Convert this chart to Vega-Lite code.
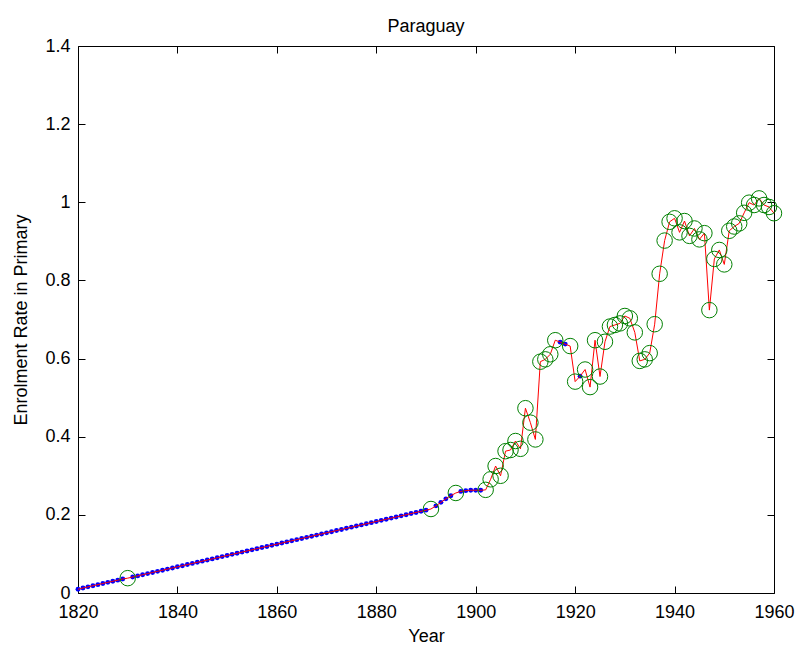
{
  "$schema": "https://vega.github.io/schema/vega-lite/v6.json",
  "autosize": {"type": "none"},
  "padding": {"left": 78, "top": 46, "right": 30, "bottom": 60},
  "width": 696,
  "height": 547,
  "background": "white",
  "title": {"text": "Paraguay", "fontSize": 18, "font": "Liberation Sans", "fontWeight": "normal", "color": "black", "offset": 1},
  "config": {
    "font": "Liberation Sans",
    "view": {"stroke": "black", "strokeWidth": 1}
  },
  "data": {"values": [
    {"year": 1820, "v": 0.0095, "obs": false},
    {"year": 1821, "v": 0.0128, "obs": false},
    {"year": 1822, "v": 0.0157, "obs": false},
    {"year": 1823, "v": 0.0186, "obs": false},
    {"year": 1824, "v": 0.0214, "obs": false},
    {"year": 1825, "v": 0.0243, "obs": false},
    {"year": 1826, "v": 0.0272, "obs": false},
    {"year": 1827, "v": 0.0300, "obs": false},
    {"year": 1828, "v": 0.0329, "obs": false},
    {"year": 1829, "v": 0.0358, "obs": false},
    {"year": 1830, "v": 0.0380, "obs": true},
    {"year": 1831, "v": 0.0409, "obs": false},
    {"year": 1832, "v": 0.0438, "obs": false},
    {"year": 1833, "v": 0.0467, "obs": false},
    {"year": 1834, "v": 0.0496, "obs": false},
    {"year": 1835, "v": 0.0525, "obs": false},
    {"year": 1836, "v": 0.0554, "obs": false},
    {"year": 1837, "v": 0.0583, "obs": false},
    {"year": 1838, "v": 0.0612, "obs": false},
    {"year": 1839, "v": 0.0641, "obs": false},
    {"year": 1840, "v": 0.0670, "obs": false},
    {"year": 1841, "v": 0.0699, "obs": false},
    {"year": 1842, "v": 0.0728, "obs": false},
    {"year": 1843, "v": 0.0757, "obs": false},
    {"year": 1844, "v": 0.0786, "obs": false},
    {"year": 1845, "v": 0.0815, "obs": false},
    {"year": 1846, "v": 0.0844, "obs": false},
    {"year": 1847, "v": 0.0873, "obs": false},
    {"year": 1848, "v": 0.0902, "obs": false},
    {"year": 1849, "v": 0.0931, "obs": false},
    {"year": 1850, "v": 0.0960, "obs": false},
    {"year": 1851, "v": 0.0989, "obs": false},
    {"year": 1852, "v": 0.1018, "obs": false},
    {"year": 1853, "v": 0.1047, "obs": false},
    {"year": 1854, "v": 0.1076, "obs": false},
    {"year": 1855, "v": 0.1105, "obs": false},
    {"year": 1856, "v": 0.1134, "obs": false},
    {"year": 1857, "v": 0.1163, "obs": false},
    {"year": 1858, "v": 0.1192, "obs": false},
    {"year": 1859, "v": 0.1221, "obs": false},
    {"year": 1860, "v": 0.1250, "obs": false},
    {"year": 1861, "v": 0.1279, "obs": false},
    {"year": 1862, "v": 0.1308, "obs": false},
    {"year": 1863, "v": 0.1337, "obs": false},
    {"year": 1864, "v": 0.1366, "obs": false},
    {"year": 1865, "v": 0.1395, "obs": false},
    {"year": 1866, "v": 0.1424, "obs": false},
    {"year": 1867, "v": 0.1453, "obs": false},
    {"year": 1868, "v": 0.1482, "obs": false},
    {"year": 1869, "v": 0.1511, "obs": false},
    {"year": 1870, "v": 0.1540, "obs": false},
    {"year": 1871, "v": 0.1569, "obs": false},
    {"year": 1872, "v": 0.1598, "obs": false},
    {"year": 1873, "v": 0.1627, "obs": false},
    {"year": 1874, "v": 0.1656, "obs": false},
    {"year": 1875, "v": 0.1685, "obs": false},
    {"year": 1876, "v": 0.1714, "obs": false},
    {"year": 1877, "v": 0.1743, "obs": false},
    {"year": 1878, "v": 0.1772, "obs": false},
    {"year": 1879, "v": 0.1801, "obs": false},
    {"year": 1880, "v": 0.1830, "obs": false},
    {"year": 1881, "v": 0.1859, "obs": false},
    {"year": 1882, "v": 0.1888, "obs": false},
    {"year": 1883, "v": 0.1917, "obs": false},
    {"year": 1884, "v": 0.1946, "obs": false},
    {"year": 1885, "v": 0.1975, "obs": false},
    {"year": 1886, "v": 0.2004, "obs": false},
    {"year": 1887, "v": 0.2033, "obs": false},
    {"year": 1888, "v": 0.2062, "obs": false},
    {"year": 1889, "v": 0.2091, "obs": false},
    {"year": 1890, "v": 0.2120, "obs": false},
    {"year": 1891, "v": 0.215, "obs": true},
    {"year": 1892, "v": 0.223, "obs": false},
    {"year": 1893, "v": 0.232, "obs": false},
    {"year": 1894, "v": 0.241, "obs": false},
    {"year": 1895, "v": 0.249, "obs": false},
    {"year": 1896, "v": 0.256, "obs": true},
    {"year": 1897, "v": 0.260, "obs": false},
    {"year": 1898, "v": 0.262, "obs": false},
    {"year": 1899, "v": 0.263, "obs": false},
    {"year": 1900, "v": 0.263, "obs": false},
    {"year": 1901, "v": 0.263, "obs": false},
    {"year": 1902, "v": 0.264, "obs": true},
    {"year": 1903, "v": 0.291, "obs": true},
    {"year": 1904, "v": 0.325, "obs": true},
    {"year": 1905, "v": 0.300, "obs": true},
    {"year": 1906, "v": 0.363, "obs": true},
    {"year": 1907, "v": 0.366, "obs": true},
    {"year": 1908, "v": 0.389, "obs": true},
    {"year": 1909, "v": 0.369, "obs": true},
    {"year": 1910, "v": 0.473, "obs": true},
    {"year": 1911, "v": 0.436, "obs": true},
    {"year": 1912, "v": 0.393, "obs": true},
    {"year": 1913, "v": 0.592, "obs": true},
    {"year": 1914, "v": 0.598, "obs": true},
    {"year": 1915, "v": 0.611, "obs": true},
    {"year": 1916, "v": 0.647, "obs": true},
    {"year": 1917, "v": 0.642, "obs": false},
    {"year": 1918, "v": 0.637, "obs": false},
    {"year": 1919, "v": 0.632, "obs": true},
    {"year": 1920, "v": 0.541, "obs": true},
    {"year": 1921, "v": 0.555, "obs": false},
    {"year": 1922, "v": 0.572, "obs": true},
    {"year": 1923, "v": 0.527, "obs": true},
    {"year": 1924, "v": 0.647, "obs": true},
    {"year": 1925, "v": 0.554, "obs": true},
    {"year": 1926, "v": 0.643, "obs": true},
    {"year": 1927, "v": 0.682, "obs": true},
    {"year": 1928, "v": 0.686, "obs": true},
    {"year": 1929, "v": 0.690, "obs": true},
    {"year": 1930, "v": 0.709, "obs": true},
    {"year": 1931, "v": 0.703, "obs": true},
    {"year": 1932, "v": 0.667, "obs": true},
    {"year": 1933, "v": 0.594, "obs": true},
    {"year": 1934, "v": 0.598, "obs": true},
    {"year": 1935, "v": 0.614, "obs": true},
    {"year": 1936, "v": 0.688, "obs": true},
    {"year": 1937, "v": 0.817, "obs": true},
    {"year": 1938, "v": 0.902, "obs": true},
    {"year": 1939, "v": 0.950, "obs": true},
    {"year": 1940, "v": 0.959, "obs": true},
    {"year": 1941, "v": 0.923, "obs": true},
    {"year": 1942, "v": 0.952, "obs": true},
    {"year": 1943, "v": 0.914, "obs": true},
    {"year": 1944, "v": 0.933, "obs": true},
    {"year": 1945, "v": 0.905, "obs": true},
    {"year": 1946, "v": 0.921, "obs": true},
    {"year": 1947, "v": 0.724, "obs": true},
    {"year": 1948, "v": 0.855, "obs": true},
    {"year": 1949, "v": 0.878, "obs": true},
    {"year": 1950, "v": 0.841, "obs": true},
    {"year": 1951, "v": 0.927, "obs": true},
    {"year": 1952, "v": 0.938, "obs": true},
    {"year": 1953, "v": 0.946, "obs": true},
    {"year": 1954, "v": 0.973, "obs": true},
    {"year": 1955, "v": 0.999, "obs": true},
    {"year": 1956, "v": 0.993, "obs": true},
    {"year": 1957, "v": 1.010, "obs": true},
    {"year": 1958, "v": 0.993, "obs": true},
    {"year": 1959, "v": 0.988, "obs": true},
    {"year": 1960, "v": 0.972, "obs": true}
  ]},
  "resolve": {"axis": {"x": "independent", "y": "independent"}},
  "layer": [
    {
      "transform": [{"filter": "!datum.obs"}],
      "mark": {"type": "point", "shape": "circle", "filled": true, "color": "#0000ff", "size": 24, "opacity": 1},
      "encoding": {
        "x": {"field": "year", "type": "quantitative",
              "scale": {"domain": [1820, 1960], "nice": false, "zero": false},
              "axis": {"title": "Year", "values": [1820, 1840, 1860, 1880, 1900, 1920, 1940, 1960], "format": "d",
                       "orient": "bottom", "grid": false, "domain": false, "tickColor": "black", "tickSize": -7,
                       "labelPadding": 17, "labelFontSize": 18, "labelColor": "black", "labelFlush": false,
                       "titleFontSize": 18, "titleFontWeight": "normal", "titleColor": "black", "titlePadding": 6}},
        "y": {"field": "v", "type": "quantitative",
              "scale": {"domain": [0, 1.4], "nice": false},
              "axis": {"title": "Enrolment Rate in Primary", "values": [0, 0.2, 0.4, 0.6, 0.8, 1, 1.2, 1.4],
                       "labelExpr": "format(datum.value, '~g')",
                       "orient": "left", "grid": false, "domain": false, "tickColor": "black", "tickSize": -7,
                       "labelPadding": 15, "labelFontSize": 18, "labelColor": "black", "labelFlush": false,
                       "titleFontSize": 18, "titleFontWeight": "normal", "titleColor": "black", "titlePadding": 14}}
      }
    },
    {
      "mark": {"type": "line", "color": "#ff0000", "strokeWidth": 1},
      "encoding": {
        "x": {"field": "year", "type": "quantitative",
              "axis": {"orient": "top", "values": [1820, 1840, 1860, 1880, 1900, 1920, 1940, 1960], "labels": false, "title": null,
                       "grid": false, "domain": false, "tickColor": "black", "tickSize": -7}},
        "y": {"field": "v", "type": "quantitative",
              "axis": {"orient": "right", "values": [0, 0.2, 0.4, 0.6, 0.8, 1, 1.2, 1.4], "labels": false, "title": null,
                       "grid": false, "domain": false, "tickColor": "black", "tickSize": -7}}
      }
    },
    {
      "transform": [{"filter": "datum.obs"}],
      "mark": {"type": "point", "shape": "circle", "filled": false, "color": "#008000", "size": 240, "strokeWidth": 1, "opacity": 1},
      "encoding": {
        "x": {"field": "year", "type": "quantitative", "axis": null},
        "y": {"field": "v", "type": "quantitative", "axis": null}
      }
    }
  ]
}
